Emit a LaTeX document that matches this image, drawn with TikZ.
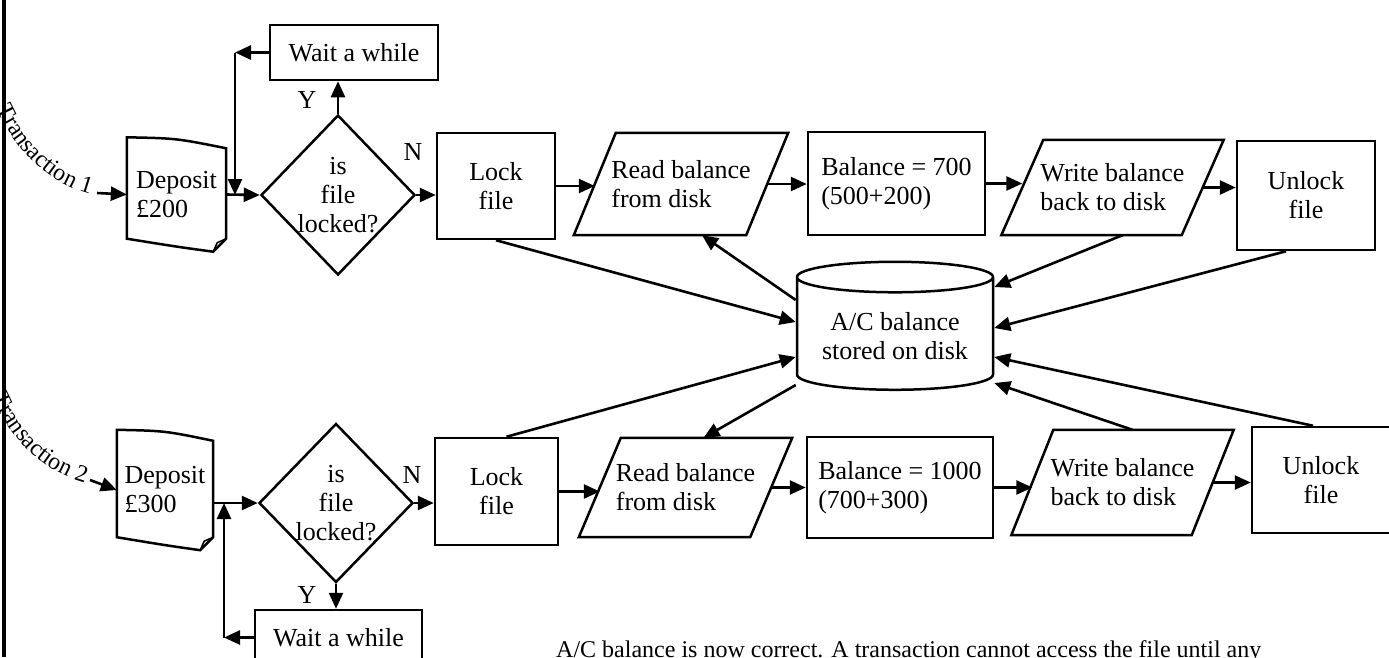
\documentclass[tikz,border=0pt]{standalone}
\usepackage{fontspec}
\setmainfont{Liberation Serif}
\usepackage{tikz}
\usetikzlibrary{arrows.meta,calc,shapes.geometric,decorations.text}
\newcommand{\boxfont}{\fontsize{26}{29}\selectfont}
\newcommand{\transfont}{\fontsize{24}{26}\selectfont}
\tikzset{
  shapeline/.style={draw=black,line width=2.5pt,line join=miter},
  flow/.style={-{Triangle[length=16pt,width=14pt]},line width=2.6pt},
  procbox/.style={shapeline,rectangle,align=center,inner sep=3pt,font=\boxfont},
  calcbox/.style={shapeline,rectangle,align=left,inner sep=3pt,font=\boxfont},
  iobox/.style={rectangle,align=left,inner sep=2pt,font=\boxfont},
  docbox/.style={rectangle,align=left,inner sep=4pt,font=\boxfont},
  decision/.style={shapeline,diamond,align=center,inner xsep=-6pt,inner ysep=-6pt,
    font=\boxfont},
  store/.style={shapeline,cylinder,shape border rotate=90,aspect=0.2,align=center,
    font=\boxfont},
  yn/.style={font=\boxfont,inner sep=0pt},
  boxsize/.style 2 args={minimum width=#1,minimum height=#2}
}
\newcommand{\ioshape}[1]{%
  \draw[shapeline] ($(#1.north west)+(21,0)$) -- ($(#1.north east)+(21,0)$)
    -- ($(#1.south east)+(-21,0)$) -- ($(#1.south west)+(-21,0)$) -- cycle;}
\newcommand{\docshape}[1]{%
  \draw[shapeline] ($(#1.north west)+(0,-5)$)
    .. controls ($(#1.north)+(0,-4)$) .. ($(#1.north east)+(0,6)$)
    -- ($(#1.south east)+(0,-8)$) -- ($(#1.south east)+(-13,5)$)
    .. controls ($(#1.south)+(0,0)$) .. ($(#1.south west)+(0,-8)$) -- cycle;
  \draw[line width=1.6pt] ($(#1.south east)+(0,-8)$) -- ($(#1.south east)+(-9,-4)$)
    -- ($(#1.south east)+(-13,5)$);}

\begin{document}
\begin{tikzpicture}[x=1pt,y=-1pt]
  \useasboundingbox (0,0) rectangle (1389,657);
  \fill[white] (0,0) rectangle (1389,657);
  \draw[line width=4pt] (4,0) -- (4,657);

  % shared disk file
  \node[store,boxsize={196pt}{128pt}] (disk) at (895,336) {A/C balance\\stored on disk};

  % transaction 1
  \path[decorate,decoration={text along path,text align=right,
    text={|\transfont|Transaction 1}}] (-16,70) .. controls (-2,130) and (36,180) .. (90,194);
  \coordinate (t1) at (97,193);
  \node[docbox,boxsize={99pt}{104pt}] (dep1) at (176.5,194.5) {Deposit\\£200};
  \docshape{dep1}
  \node[decision,boxsize={154pt}{160pt}] (dia1) at (338,195) {is\\file\\locked?};
  \node[procbox,boxsize={168pt}{55pt}] (wait1) at (354,52.5) {Wait a while};
  \node[yn] (y1) at (307,100) {Y};
  \node[yn] (n1) at (413,152) {N};
  \node[procbox,boxsize={118pt}{106pt}] (lock1) at (496,186) {Lock\\file};
  \node[iobox,boxsize={172pt}{102pt}] (read1) at (681,184) {Read balance\\from disk};
  \ioshape{read1}
  \node[calcbox,boxsize={177pt}{103pt}] (bal1) at (896.5,183.5) {Balance = 700\\(500+200)};
  \node[iobox,boxsize={180pt}{95pt}] (write1) at (1112.5,187.5) {Write balance\\back to disk};
  \ioshape{write1}
  \node[procbox,boxsize={138pt}{109pt}] (unlock1) at (1306,195.5) {Unlock\\file};
  \coordinate (j1) at (235,195);

  \draw[flow] (t1) -- (dep1.west);
  \draw[flow] (dep1.east) -- (dia1.west);
  \draw[flow] (wait1.west) -- (wait1.west -| j1);
  \draw[flow] (wait1.west -| j1) -- (j1);
  \draw[flow] (dia1.north) -- (dia1.north |- wait1.south);
  \draw[flow] (dia1.east) -- (dia1.east -| lock1.west);
  \draw[flow] (lock1.east) -- (lock1.east -| read1.west);
  \draw[flow] (read1.east) -- (read1.east -| bal1.west);
  \draw[flow] (bal1.east) -- (bal1.east -| write1.west);
  \draw[flow] (write1.east) -- (write1.east -| unlock1.west);
  \draw[flow] (lock1.south) -- ($(disk.west)+(0,-14)$);
  \draw[flow] ($(disk.west)+(0,-36)$) -- ($(read1.south)+(21,0)$);
  \draw[flow] ($(write1.south)+(10,0)$) -- ($(disk.east)+(0,-49)$);
  \draw[flow] ($(unlock1.south)+(-20,0)$) -- ($(disk.east)+(0,-8)$);

  % transaction 2
  \path[decorate,decoration={text along path,text align=right,
    text={|\transfont|Transaction 2}}] (-20,358) .. controls (-6,420) and (30,468) .. (85,483);
  \coordinate (t2) at (90,480);
  \node[docbox,boxsize={96pt}{110pt}] (dep2) at (165,490) {Deposit\\£300};
  \docshape{dep2}
  \node[decision,boxsize={154pt}{159pt}] (dia2) at (336,503) {is\\file\\locked?};
  \node[procbox,boxsize={167pt}{55pt}] (wait2) at (338.5,637.5) {Wait a while};
  \node[yn] (y2) at (307,595) {Y};
  \node[yn] (n2) at (412,475) {N};
  \node[procbox,boxsize={123pt}{107pt}] (lock2) at (496.5,491.5) {Lock\\file};
  \node[iobox,boxsize={171pt}{99pt}] (read2) at (685.5,487.5) {Read balance\\from disk};
  \ioshape{read2}
  \node[calcbox,boxsize={186pt}{101pt}] (bal2) at (900,487.5) {Balance = 1000\\(700+300)};
  \node[iobox,boxsize={180pt}{105pt}] (write2) at (1122.5,482.5) {Write balance\\back to disk};
  \ioshape{write2}
  \node[procbox,boxsize={138pt}{106pt}] (unlock2) at (1321,480) {Unlock\\file};
  \coordinate (j2) at (224,503);

  \draw[flow] (t2) -- (dep2.west);
  \draw[flow] (dep2.east |- j2) -- (dia2.west);
  \draw[flow] (wait2.west) -- (wait2.west -| j2);
  \draw[flow] (wait2.west -| j2) -- (j2);
  \draw[flow] (dia2.south) -- (dia2.south |- wait2.north);
  \draw[flow] (dia2.east) -- (dia2.east -| lock2.west);
  \draw[flow] (lock2.east) -- (lock2.east -| read2.west);
  \draw[flow] (read2.east) -- (read2.east -| bal2.west);
  \draw[flow] (bal2.east) -- (bal2.east -| write2.west);
  \draw[flow] (write2.east) -- (write2.east -| unlock2.west);
  \draw[flow] ($(lock2.north)+(10,0)$) -- ($(disk.west)+(0,21)$);
  \draw[flow] ($(disk.west)+(0,49)$) -- ($(read2.north)+(18,0)$);
  \draw[flow] ($(write2.north)+(10,0)$) -- ($(disk.east)+(0,47)$);
  \draw[flow] ($(unlock2.north)+(-8,0)$) -- ($(disk.east)+(0,21)$);

  \node[anchor=base west,inner sep=0pt,font=\fontsize{24}{26}\selectfont] (note)
    at (556,657) {A/C balance is now correct. A transaction cannot access the file until any};
\end{tikzpicture}
\end{document}
